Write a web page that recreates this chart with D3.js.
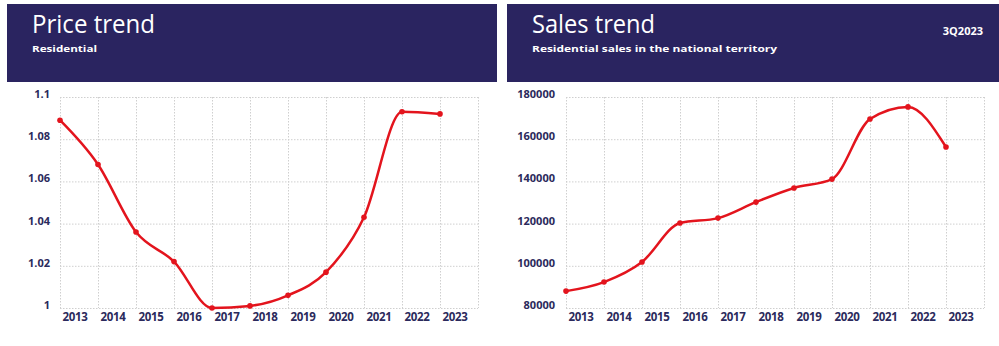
<!DOCTYPE html>
<html>
<head>
<meta charset="utf-8">
<script src="https://cdn.jsdelivr.net/npm/d3@7"></script>
<style>
  html, body { margin: 0; padding: 0; background: #ffffff; }
  svg { display: block; }
</style>
</head>
<body>
<svg id="chart" width="999" height="346"></svg>
<script>
// Years shared by both panels
const years = ["2013","2014","2015","2016","2017","2018","2019","2020","2021","2022","2023"];

// Residential price index
const priceValues = [1.089, 1.068, 1.036, 1.022, 1.000, 1.001, 1.006, 1.017, 1.043, 1.093, 1.092];
const priceTicks = [1, 1.02, 1.04, 1.06, 1.08, 1.1];
const priceTickLabels = ["1", "1.02", "1.04", "1.06", "1.08", "1.1"];

// Residential sales (units)
const salesValues = [88000, 92300, 101800, 120300, 122600, 130200, 136900, 141100, 169600, 175300, 156300];
const salesTicks = [80000, 100000, 120000, 140000, 160000, 180000];
const salesTickLabels = ["80000", "100000", "120000", "140000", "160000", "180000"];

const NAVY = "#2a2460";
const RED = "#e3141d";
const LABEL = "#2b2a5c";

const svg = d3.select("#chart");

function panel(opt) {
  const g = svg.append("g");

  // Header band
  g.append("rect")
    .attr("x", opt.hx).attr("y", 4)
    .attr("width", opt.hw).attr("height", 78)
    .attr("fill", NAVY);

  g.append("text")
    .attr("x", opt.hx + 25).attr("y", 33)
    .attr("fill", "#ffffff")
    .attr("font-family", "Open Sans, Noto Sans, sans-serif")
    .attr("font-size", 25)
    .attr("textLength", 123).attr("lengthAdjust", "spacingAndGlyphs")
    .text(opt.title);

  g.append("text")
    .attr("x", opt.hx + 25).attr("y", 52)
    .attr("fill", "#ffffff")
    .attr("font-family", "Open Sans, Noto Sans, sans-serif")
    .attr("font-weight", "bold")
    .attr("font-size", 9.5)
    .attr("textLength", opt.subLen).attr("lengthAdjust", "spacingAndGlyphs")
    .text(opt.subtitle);

  if (opt.corner) {
    g.append("text")
      .attr("x", opt.hx + opt.hw - 16).attr("y", 35)
      .attr("text-anchor", "end")
      .attr("fill", "#ffffff")
      .attr("font-family", "Open Sans, Noto Sans, sans-serif")
      .attr("font-weight", "bold")
      .attr("font-size", 11)
      .text(opt.corner);
  }

  const x = d3.scaleBand().domain(years).range([opt.left, opt.left + 418]).paddingInner(0).paddingOuter(0);
  const y = d3.scaleLinear().domain(opt.domain).range([308, 97]);

  const grid = g.append("g")
    .attr("stroke", "#cfcfcf")
    .attr("stroke-width", 1)
    .attr("stroke-dasharray", "1.5,1.5");

  // Horizontal gridlines
  grid.selectAll("line.h")
    .data(opt.ticks)
    .join("line")
    .attr("class", "h")
    .attr("x1", x.range()[0]).attr("x2", x.range()[1])
    .attr("y1", d => y(d) + 0.5).attr("y2", d => y(d) + 0.5);

  // Vertical gridlines at the category boundaries
  const bounds = years.map(d => x(d)).concat([x.range()[1]]);
  grid.selectAll("line.v")
    .data(bounds)
    .join("line")
    .attr("class", "v")
    .attr("x1", d => d + 0.5).attr("x2", d => d + 0.5)
    .attr("y1", y.range()[1]).attr("y2", y.range()[0]);

  // Y axis labels
  const yAxis = d3.axisLeft(y)
    .tickValues(opt.ticks)
    .tickFormat((d, i) => opt.tickLabels[i])
    .tickSize(0)
    .tickPadding(opt.yPad);
  const ya = g.append("g")
    .attr("transform", `translate(${opt.left},-3)`)
    .call(yAxis);
  ya.select(".domain").remove();
  ya.selectAll("text")
    .attr("fill", LABEL)
    .attr("font-family", "Open Sans, Noto Sans, sans-serif")
    .attr("font-weight", "bold")
    .attr("font-size", 11);

  // X axis labels
  const xAxis = d3.axisBottom(x).tickSize(0).tickPadding(6);
  const xa = g.append("g")
    .attr("transform", `translate(-4,307)`)
    .call(xAxis);
  xa.select(".domain").remove();
  xa.selectAll("text")
    .attr("fill", LABEL)
    .attr("font-family", "Open Sans, Noto Sans, sans-serif")
    .attr("font-weight", "bold")
    .attr("font-size", 11.5)
    .attr("letter-spacing", -0.3);

  // Series line and markers
  const pts = years.map((yr, i) => ({ yr, v: opt.values[i] }));
  const line = d3.line()
    .x(d => x(d.yr))
    .y(d => y(d.v))
    .curve(d3.curveMonotoneX);

  g.append("path")
    .datum(pts)
    .attr("d", line)
    .attr("fill", "none")
    .attr("stroke", RED)
    .attr("stroke-width", 2.5)
    .attr("stroke-linejoin", "round");

  g.selectAll("circle.pt")
    .data(pts)
    .join("circle")
    .attr("class", "pt")
    .attr("cx", d => x(d.yr))
    .attr("cy", d => y(d.v))
    .attr("r", 2.8)
    .attr("fill", RED);
}

panel({
  hx: 7, hw: 490,
  title: "Price trend",
  subtitle: "Residential",
  subLen: 65,
  left: 60,
  domain: [1, 1.1],
  ticks: priceTicks,
  tickLabels: priceTickLabels,
  values: priceValues,
  yPad: 10
});

panel({
  hx: 507, hw: 492,
  title: "Sales trend",
  subtitle: "Residential sales in the national territory",
  subLen: 245,
  corner: "3Q2023",
  left: 566,
  domain: [80000, 180000],
  ticks: salesTicks,
  tickLabels: salesTickLabels,
  values: salesValues,
  yPad: 11
});
</script>
</body>
</html>
